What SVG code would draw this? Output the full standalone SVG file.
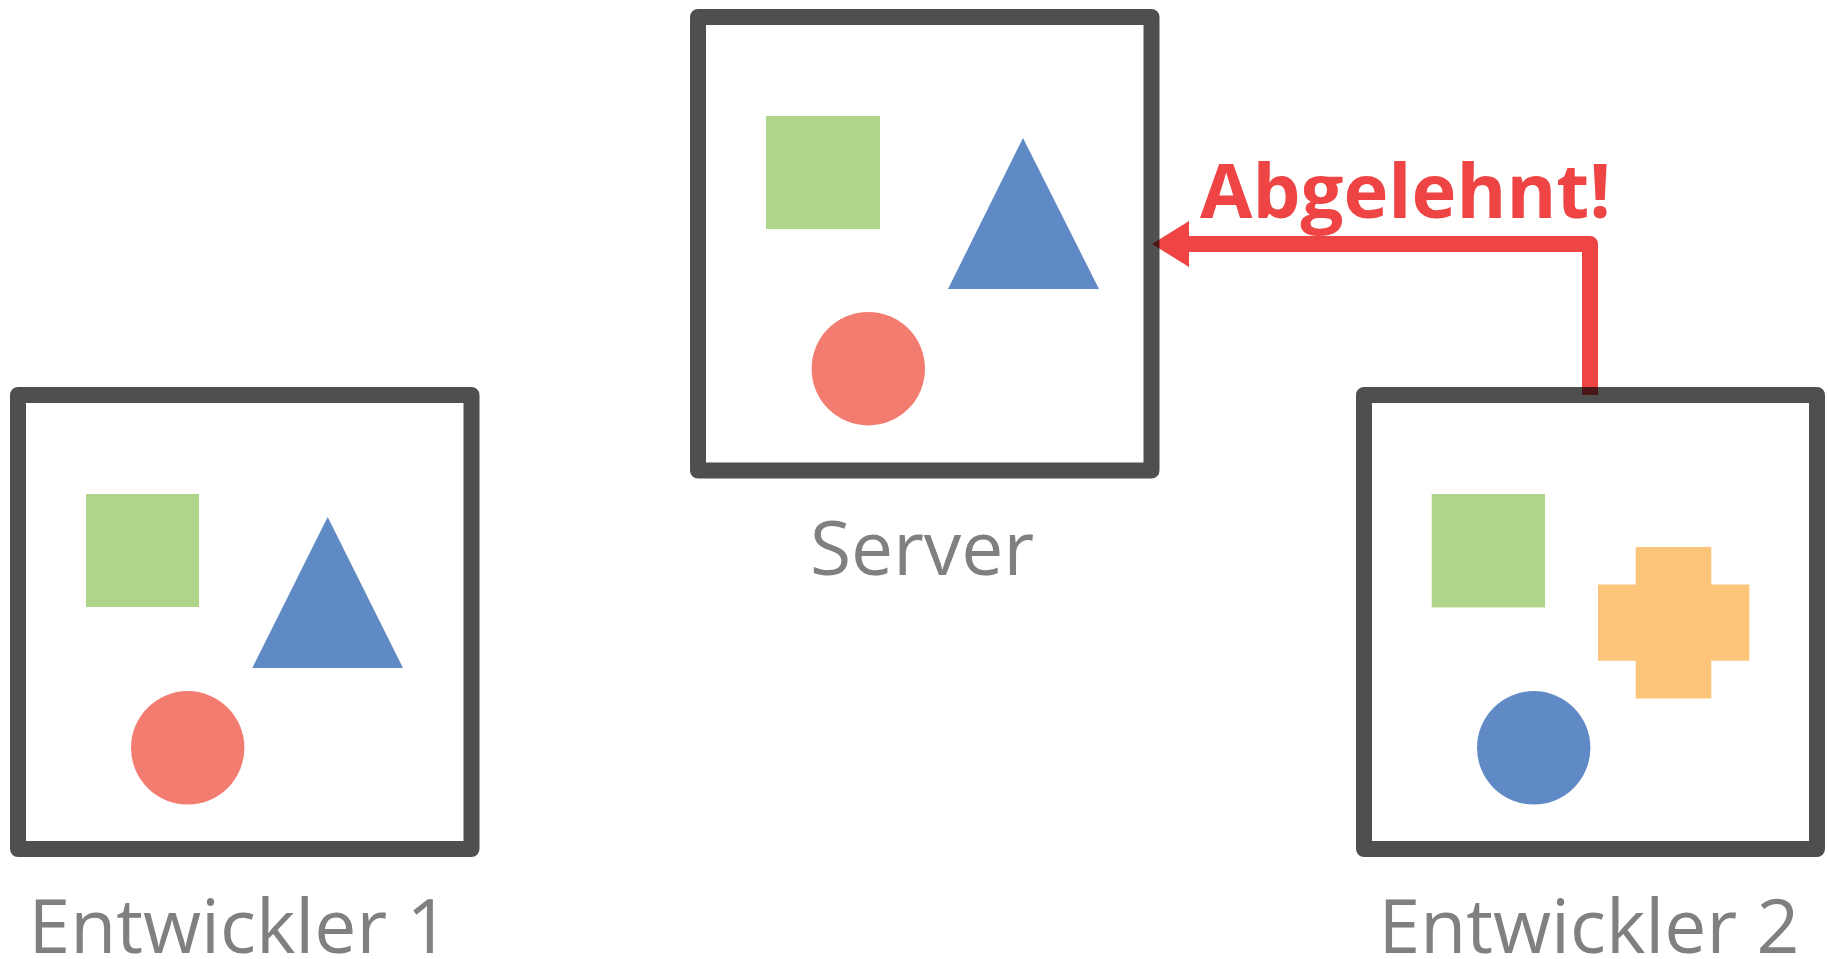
<svg xmlns="http://www.w3.org/2000/svg" width="1828" height="959" viewBox="0 0 1828 959">
<style>
.box{fill:#fff;stroke:#4f4f4f;stroke-width:16;stroke-linejoin:round}
.sq{fill:#afd58a}
.tri{fill:#5f8ac6}
.cir{fill:#f37c71}
.blue{fill:#5f8ac6}
.cross{fill:#fcc57a}
.lbl{font-family:"Open Sans","Noto Sans","Liberation Sans",sans-serif;font-size:75px;fill:#808080;text-anchor:middle}
.rej{font-family:"Open Sans","Noto Sans","Liberation Sans",sans-serif;font-size:76px;font-weight:bold;fill:#ee4444}
.conn{mix-blend-mode:multiply}
</style>
<rect width="1828" height="959" fill="#fff"/>
<g id="server">
<rect class="box" x="698" y="17" width="453.5" height="453.5"/>
<rect class="sq" x="766" y="116" width="114" height="113"/>
<polygon class="tri" points="1023,138 1099,289 948,289"/>
<circle class="cir" cx="868.3" cy="368.7" r="56.7"/>
<text class="lbl" x="922" y="575">Server</text>
</g>
<g id="dev1">
<rect class="box" x="18" y="395" width="453.5" height="454"/>
<rect class="sq" x="86" y="494" width="113" height="113"/>
<polygon class="tri" points="327.7,517 403,668 252.3,668"/>
<circle class="cir" cx="187.7" cy="747.8" r="56.7"/>
<text class="lbl" x="239" y="953">Entwickler 1</text>
</g>
<g id="dev2">
<rect class="box" x="1364" y="395" width="453" height="454"/>
<rect class="sq" x="1431.7" y="494" width="113.3" height="113.4"/>
<polygon class="cross" points="1635.7,547 1711.3,547 1711.3,584.4 1749.3,584.4 1749.3,660.7 1711.3,660.7 1711.3,698.5 1635.7,698.5 1635.7,660.7 1598,660.7 1598,584.4 1635.7,584.4"/>
<circle class="blue" cx="1533.7" cy="747.8" r="56.7"/>
<text class="lbl" x="1589" y="953">Entwickler 2</text>
</g>
<g id="connectors" class="conn">
<path d="M1590,395 V244 H1188" fill="none" stroke="#ee4444" stroke-width="16" stroke-linejoin="round"/>
<polygon points="1152,244 1189,221 1189,267" fill="#ee4444"/>
</g>
<g id="label-rejected">
<text class="rej" x="1200" y="218">Abgelehnt!</text>
</g>
</svg>
